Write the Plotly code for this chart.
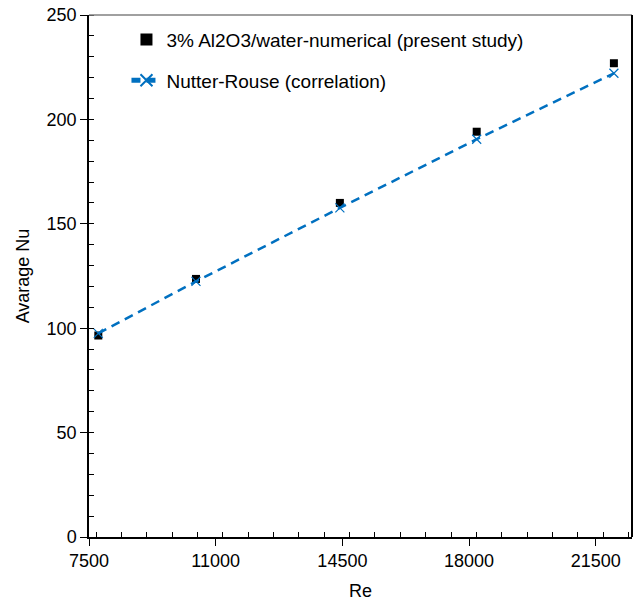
import plotly.graph_objects as go

re_vals = [7757, 10456, 14430, 18210, 22000]
nu_numerical = [96.5, 123.6, 160.0, 194.1, 226.9]
nu_nutter_rouse = [97.5, 122.4, 157.6, 190.5, 222.1]

x_ticks = [7500, 11000, 14500, 18000, 21500]
x_tick_text = ["7500", "11000", "14500", "18000", "21500"]
y_ticks = [0, 50, 100, 150, 200, 250]
y_tick_text = ["0", "50", "100", "150", "200", "250"]

FONT = "Liberation Sans"
fig = go.Figure()
fig.add_trace(go.Scatter(
    x=re_vals, y=nu_numerical, mode="markers",
    name="3% Al2O3/water-numerical (present study)", legendgroup="a",
    marker=dict(symbol="square", size=8, color="black"),
))
fig.add_trace(go.Scatter(
    x=re_vals, y=nu_nutter_rouse, mode="lines+markers",
    name="Nutter-Rouse (correlation)", legendgroup="b",
    line=dict(color="#0070C0", width=2.5, dash="9px,6px"),
    marker=dict(symbol="x-thin", size=9, line=dict(color="#0070C0", width=1.2), color="#0070C0"),
))

fig.update_layout(
    width=636, height=601,
    margin=dict(l=89, r=4, t=15, b=64),
    paper_bgcolor="white", plot_bgcolor="white",
    font=dict(family=FONT, size=18, color="black"),
    showlegend=True,
    legend=dict(x=0.069, y=0.989, xanchor="left", yanchor="top",
                bgcolor="rgba(0,0,0,0)", font=dict(size=19, family=FONT),
                tracegroupgap=13, itemsizing="constant"),
    xaxis=dict(range=[7500, 22500], tickmode="array", tickvals=x_ticks, ticktext=x_tick_text,
               ticks="outside", ticklen=7, tickwidth=1.3, tickcolor="black",
               showline=True, linecolor="black", linewidth=1.5, showgrid=False, zeroline=False,
               minor=dict(dtick=700, ticks="inside", ticklen=5, tickwidth=1, tickcolor="black", showgrid=False),
               title=dict(text="Re", font=dict(size=18, family=FONT), standoff=14),
               tickfont=dict(size=18, family=FONT)),
    yaxis=dict(range=[0, 250], tickmode="array", tickvals=y_ticks, ticktext=y_tick_text,
               ticks="outside", ticklen=7, tickwidth=1.3, tickcolor="black",
               showline=True, linecolor="black", linewidth=1.5, showgrid=False, zeroline=False,
               minor=dict(dtick=10, ticks="inside", ticklen=5, tickwidth=1, tickcolor="black", showgrid=False),
               title=dict(text="Avarage Nu", font=dict(size=18, family=FONT), standoff=12),
               tickfont=dict(size=18, family=FONT)),
)
fig.add_shape(type="line", xref="paper", yref="paper", x0=0, x1=1, y0=1, y1=1,
              line=dict(color="#808080", width=1.5))
fig.add_shape(type="line", xref="paper", yref="paper", x0=1, x1=1, y0=0, y1=1,
              line=dict(color="black", width=2))
fig.write_html("out.html")
